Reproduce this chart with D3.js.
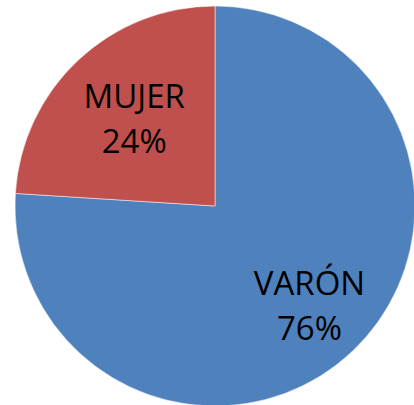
<!DOCTYPE html>
<meta charset="utf-8">
<title>Varón / Mujer</title>
<script src="https://d3js.org/d3.v7.min.js"></script>
<style>
  body { margin: 0; background: #fff; }
  svg text { font-family: "Open Sans", "Liberation Sans", sans-serif; }
</style>
<body>
<script>

// Data
const labels = ["VARÓN", "MUJER"];
const values = [76, 24];
const colors = ["#4F81BD", "#C0504D"];

const width = 414;
const height = 405;
const cx = 215, cy = 206, radius = 200;

const svg = d3.select("body").append("svg")
  .attr("width", width)
  .attr("height", height);

const g = svg.append("g")
  .attr("transform", `translate(${cx},${cy})`);

const pie = d3.pie().sort(null).value(d => d)
  .startAngle(0).endAngle(2 * Math.PI);

const arc = d3.arc().innerRadius(0).outerRadius(radius);

const arcs = pie(values);

g.selectAll("path")
  .data(arcs)
  .enter()
  .append("path")
  .attr("d", arc)
  .attr("fill", (d, i) => colors[i])
  .attr("stroke", "#fff")
  .attr("stroke-opacity", 0.5)
  .attr("stroke-width", 1);

// labels sit roughly where Excel's "best fit" puts them
const labelR = d => (d.endAngle - d.startAngle) > Math.PI ? 138 : 118;

const lbl = g.selectAll("text.label")
  .data(arcs)
  .enter()
  .append("text")
  .attr("class", "label")
  .attr("text-anchor", "middle")
  .attr("font-size", 33)
  .attr("fill", "#000")
  .attr("transform", d => {
    const r = labelR(d);
    const c = d3.arc().innerRadius(r).outerRadius(r).centroid(d);
    return `translate(${c[0]},${c[1]})`;
  });

lbl.append("tspan")
  .attr("x", 0)
  .attr("y", -12)
  .text((d, i) => labels[i]);

lbl.append("tspan")
  .attr("x", 0)
  .attr("y", 33)
  .text((d, i) => values[i] + "%");

</script>
</body>
